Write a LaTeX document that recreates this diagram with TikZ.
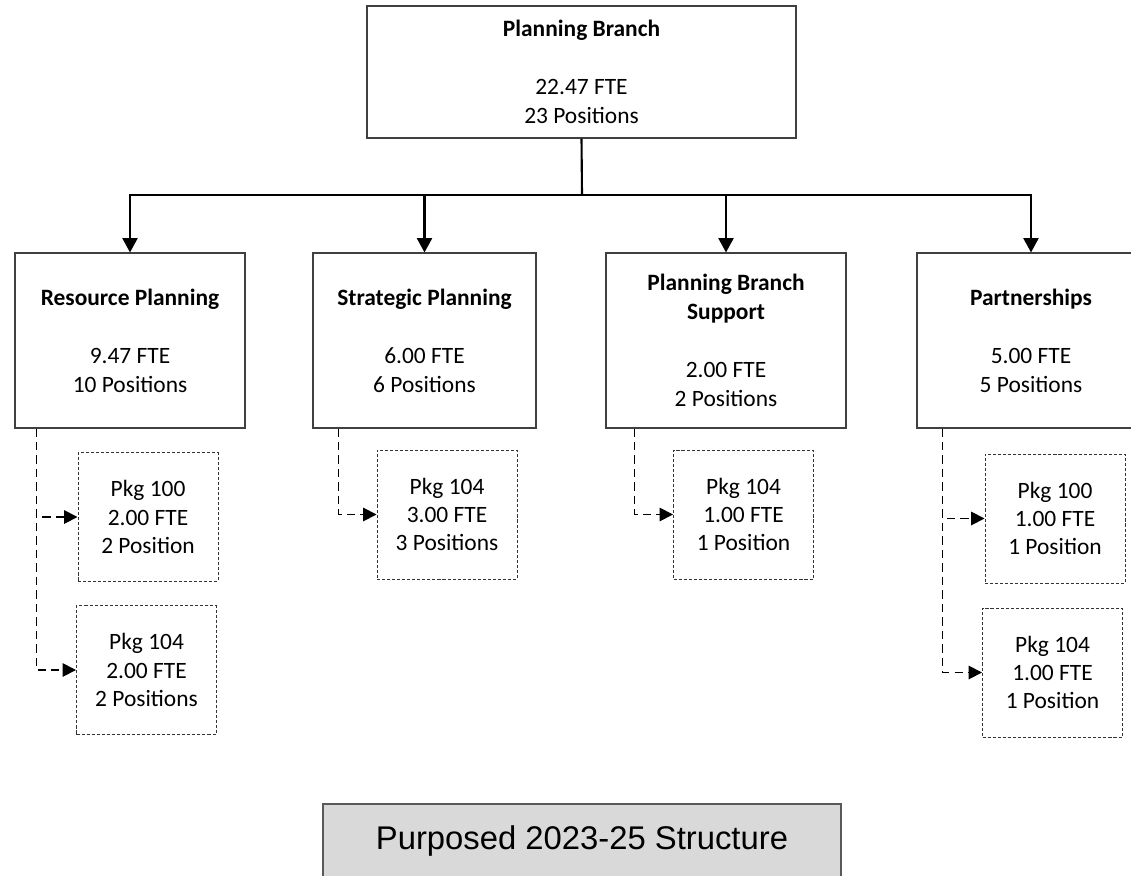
\documentclass[tikz,border=0pt]{standalone}
\usepackage{fontspec}
\setmainfont{Carlito}
\newfontfamily\arialfont{Liberation Sans}
\usetikzlibrary{arrows.meta,positioning}

\begin{document}
\begin{tikzpicture}[x=0.03cm,y=-0.03cm,
    unit/.style={draw=black!75,line width=0.9pt,align=center,minimum height=5.25cm,font=\fontsize{20}{24.75}\selectfont},
    pkg/.style={draw=black!80,line width=0.8pt,dash pattern=on 2.6pt off 1.7pt,align=center,minimum width=4.2cm,minimum height=3.87cm,font=\fontsize{20}{24}\selectfont},
    banner/.style={draw=black!65,fill=black!15,line width=0.9pt,minimum width=15.54cm,minimum height=2.22cm,font=\arialfont\fontsize{28}{34}\selectfont},
    wire/.style={line width=1.8pt},
    drop/.style={line width=1.5pt,dash pattern=on 7.2pt off 4.3pt,-{Triangle[length=0.4cm,width=0.4cm]}}]
    \clip (0,0) rectangle (1131,875);

    \node[unit,minimum width=12.87cm,minimum height=3.96cm] (branch) at (581.5,72)
        {\textbf{Planning Branch}\\ \mbox{}\\ 22.47 FTE\\ 23 Positions};

    % Units
    \node[unit,minimum width=6.9cm] (resource) at (130,340.5)
        {\textbf{Resource Planning}\\ \mbox{}\\ 9.47 FTE\\ 10 Positions};
    \node[unit,minimum width=6.69cm] (strategic) at (424.5,340.5)
        {\textbf{Strategic Planning}\\ \mbox{}\\ 6.00 FTE\\ 6 Positions};
    \node[unit,minimum width=7.2cm] (support) at (726,340.5)
        {\textbf{Planning Branch}\\ \textbf{Support}\\ \mbox{}\\ 2.00 FTE\\ 2 Positions};
    \node[unit,minimum width=6.84cm] (partner) at (1031,340.5)
        {\textbf{Partnerships}\\ \mbox{}\\ 5.00 FTE\\ 5 Positions};

    \coordinate (bus) at (582,195);
    \draw[wire] (branch.south) -- (bus);
    \foreach \u in {resource,strategic,support,partner}
        \draw[wire,-{Triangle[length=0.43cm,width=0.45cm]}] (bus) -| (\u.north);

    % Packages
    \node[pkg] (rp100) at (148,517) {Pkg 100\\ 2.00 FTE\\ 2 Position};
    \node[pkg] (rp104) at (146.5,670) {Pkg 104\\ 2.00 FTE\\ 2 Positions};
    \node[pkg] (sp104) at (447,514.5) {Pkg 104\\ 3.00 FTE\\ 3 Positions};
    \node[pkg] (bs104) at (743.5,514.5) {Pkg 104\\ 1.00 FTE\\ 1 Position};
    \node[pkg] (pa100) at (1055,518.5) {Pkg 100\\ 1.00 FTE\\ 1 Position};
    \node[pkg] (pa104) at (1052.5,672.5) {Pkg 104\\ 1.00 FTE\\ 1 Position};

    \coordinate (rpdrop) at ([xshift=0.66cm]resource.south west);
    \coordinate (spdrop) at ([xshift=0.78cm]strategic.south west);
    \coordinate (bsdrop) at ([xshift=0.87cm]support.south west);
    \coordinate (padrop) at ([xshift=0.78cm]partner.south west);
    \draw[drop] (rpdrop) |- (rp100.west);
    \draw[drop] (rpdrop) |- (rp104.west);
    \draw[drop] (spdrop) |- (sp104.west);
    \draw[drop] (bsdrop) |- (bs104.west);
    \draw[drop] (padrop) |- (pa100.west);
    \draw[drop] (padrop) |- (pa104.west);

    \node[banner] (caption) at (582,841) {Purposed 2023-25 Structure};
\end{tikzpicture}
\end{document}
